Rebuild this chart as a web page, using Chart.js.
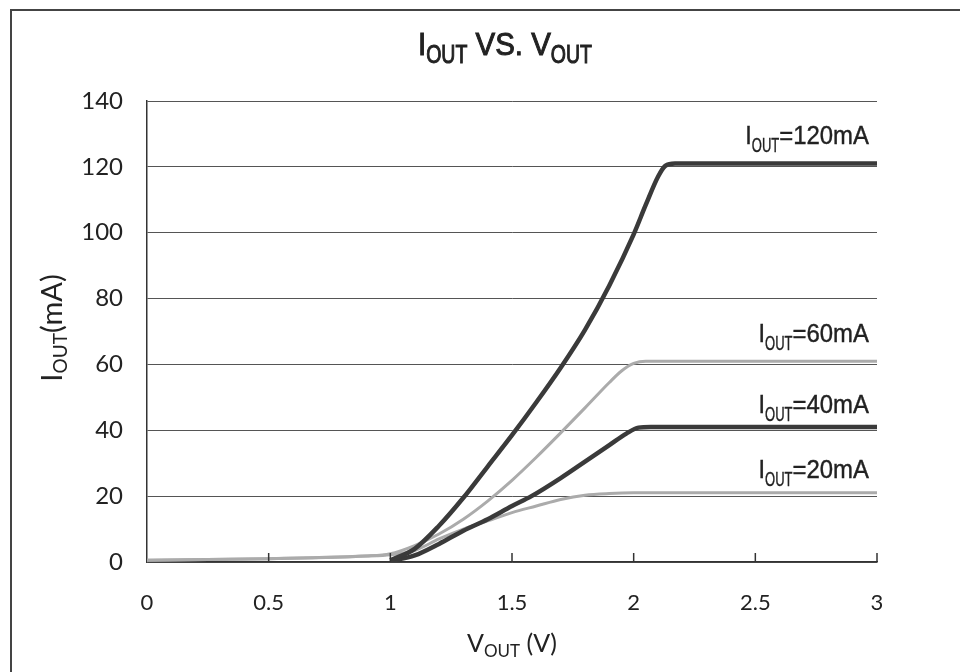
<!DOCTYPE html>
<html lang="en">
<head>
<meta charset="UTF-8">
<title>IOUT vs VOUT</title>
<script src="https://cdn.jsdelivr.net/npm/chart.js"></script>
<style>
  html, body { margin: 0; padding: 0; background: #fff; }
  #wrap { width: 960px; height: 672px; position: relative; }
</style>
</head>
<body>
<div id="wrap"><canvas id="myChart" width="960" height="672"></canvas></div>
<script>
// series data (V, mA)
const v120 = [1.0, 1.1, 1.2, 1.3, 1.4, 1.5, 1.6, 1.7, 1.8, 1.9, 2.0, 2.05, 2.1, 2.13, 2.17, 2.5, 3.0];
const i120 = [0.5, 4, 11, 19.5, 29, 38.5, 48.5, 59, 70.5, 84, 99.5, 108.5, 117, 120.3, 121, 121, 121];

const v60 = [0, 0.5, 0.9, 1.0, 1.1, 1.2, 1.3, 1.4, 1.5, 1.6, 1.7, 1.8, 1.9, 1.95, 2.0, 2.05, 2.5, 3.0];
const i60 = [0.5, 1, 1.8, 2.5, 5, 8.5, 13, 18.5, 24.8, 31.8, 39.2, 46.8, 54.5, 58, 60.3, 61, 61, 61];

const v40 = [1.0, 1.1, 1.2, 1.3, 1.4, 1.5, 1.58, 1.7, 1.8, 1.9, 1.97, 2.02, 2.07, 2.5, 3.0];
const i40 = [0.3, 2, 5.5, 9.5, 13, 17, 20, 25.5, 30.5, 35.5, 39, 40.8, 41, 41, 41];

const v20 = [0, 0.5, 0.9, 1.0, 1.1, 1.2, 1.3, 1.4, 1.5, 1.6, 1.7, 1.8, 1.9, 2.0, 2.5, 3.0];
const i20 = [0.5, 1, 1.8, 2.2, 3.5, 7, 10, 12.5, 15, 17, 19, 20.3, 20.8, 21, 21, 21];

const seriesLabels = ['=120mA', '=60mA', '=40mA', '=20mA'];
const plateaus = [121, 61, 41, 21];
const xTicks = [0, 0.5, 1, 1.5, 2, 2.5, 3];

const dark = '#3a3a3a';
const light = '#ababab';
const sans = '"Liberation Sans", Arial, sans-serif';
const tickFont = 'Lato, "Open Sans", sans-serif';

function pts(xs, ys) {
    return xs.map((x, k) => ({ x: x, y: ys[k] }));
}

// draws text pieces like I + subscript OUT; each piece may be squeezed sideways (sx)
function richText(ctx, parts, x, y, align, thick) {
    let total = 0;
    parts.forEach(p => {
        ctx.font = (p.w || '') + ' ' + p.size + 'px ' + p.family;
        total += ctx.measureText(p.t).width * (p.sx || 1);
    });
    let cx = align === 'right' ? x - total : (align === 'center' ? x - total / 2 : x);
    ctx.textBaseline = 'alphabetic';
    ctx.textAlign = 'left';
    parts.forEach(p => {
        ctx.font = (p.w || '') + ' ' + p.size + 'px ' + p.family;
        ctx.save();
        ctx.translate(cx, y + (p.dy || 0));
        ctx.scale(p.sx || 1, 1);
        ctx.fillText(p.t, 0, 0);
        if (thick) {
            ctx.lineWidth = thick;
            ctx.strokeStyle = ctx.fillStyle;
            ctx.strokeText(p.t, 0, 0);
        }
        ctx.restore();
        cx += ctx.measureText(p.t).width * (p.sx || 1);
    });
}

const decor = {
    id: 'decor',
    beforeDraw(chart) {
        const ctx = chart.ctx;
        ctx.save();
        ctx.strokeStyle = '#444';
        ctx.lineWidth = 2;
        ctx.beginPath();
        ctx.moveTo(11, 672);
        ctx.lineTo(11, 10);
        ctx.lineTo(960, 10);
        ctx.stroke();
        ctx.restore();
    },
    afterDraw(chart) {
        const ctx = chart.ctx;
        const xs = chart.scales.x, ys = chart.scales.y;
        ctx.save();
        ctx.fillStyle = '#222';
        // title
        richText(ctx, [
            { t: 'I', size: 32, family: sans, sx: 0.92 },
            { t: 'OUT', size: 25, family: sans, sx: 0.78, dy: 8 },
            { t: ' VS. V', size: 32, family: sans, sx: 0.92 },
            { t: 'OUT', size: 25, family: sans, sx: 0.78, dy: 8 }
        ], 505, 55, 'center', 1);
        // x title
        richText(ctx, [
            { t: 'V', size: 25, family: tickFont },
            { t: 'OUT', size: 17, family: tickFont, dy: 5 },
            { t: ' (V)', size: 25, family: tickFont }
        ], 512, 652, 'center');
        // y title, rotated
        ctx.save();
        ctx.translate(62, 328);
        ctx.rotate(-Math.PI / 2);
        richText(ctx, [
            { t: 'I', size: 29, family: tickFont },
            { t: 'OUT', size: 19, family: tickFont, dy: 5 },
            { t: '(mA)', size: 29, family: tickFont }
        ], 0, 0, 'center');
        ctx.restore();
        // series labels
        const offs = [20, 19, 14, 15];
        seriesLabels.forEach((s, k) => {
            const y = ys.getPixelForValue(plateaus[k]) - offs[k];
            richText(ctx, [
                { t: 'I', size: 26, family: sans, sx: 0.9 },
                { t: 'OUT', size: 20, family: sans, sx: 0.65, dy: 8 },
                { t: s, size: 26, family: sans, sx: 0.92 }
            ], xs.right - 8, y, 'right', 0.4);
        });
        // tick marks pointing up from the x axis
        ctx.strokeStyle = '#333';
        ctx.lineWidth = 1.5;
        xTicks.slice(1).forEach(t => {
            const px = xs.getPixelForValue(t);
            ctx.beginPath();
            ctx.moveTo(px, ys.bottom);
            ctx.lineTo(px, ys.bottom - 9);
            ctx.stroke();
        });
        ctx.restore();
    }
};

const ctx = document.getElementById('myChart').getContext('2d');
const line = (data, color, w, order) => ({
    data: data,
    borderColor: color,
    borderWidth: w,
    pointRadius: 0,
    fill: false,
    cubicInterpolationMode: 'monotone',
    order: order
});

new Chart(ctx, {
    type: 'line',
    data: {
        datasets: [
            line(pts(v20, i20), light, 3, 4),
            line(pts(v60, i60), light, 3, 3),
            line(pts(v40, i40), dark, 4.5, 2),
            line(pts(v120, i120), dark, 4.5, 1)
        ]
    },
    options: {
        responsive: false,
        animation: false,
        layout: { padding: { top: 101, right: 83, bottom: 0, left: 0 } },
        plugins: { legend: { display: false }, tooltip: { enabled: false } },
        scales: {
            x: {
                type: 'linear',
                min: 0, max: 3,
                afterBuildTicks(scale) { scale.ticks = xTicks.map(v => ({ value: v })); },
                afterFit(scale) { scale.height = 110; },
                grid: { display: false, drawTicks: false },
                border: { display: true, color: '#333', width: 1.5 },
                ticks: {
                    color: '#222', padding: 28, font: { family: tickFont, size: 22 },
                    callback: v => String(v)
                }
            },
            y: {
                min: 0, max: 140,
                ticks: { stepSize: 20, color: '#222', padding: 24, font: { family: tickFont, size: 24 } },
                afterFit(scale) { scale.width = 147; },
                grid: { color: '#555', lineWidth: 1, drawTicks: false },
                border: { display: true, color: '#333', width: 1.5 }
            }
        }
    },
    plugins: [decor]
});
</script>
</body>
</html>
